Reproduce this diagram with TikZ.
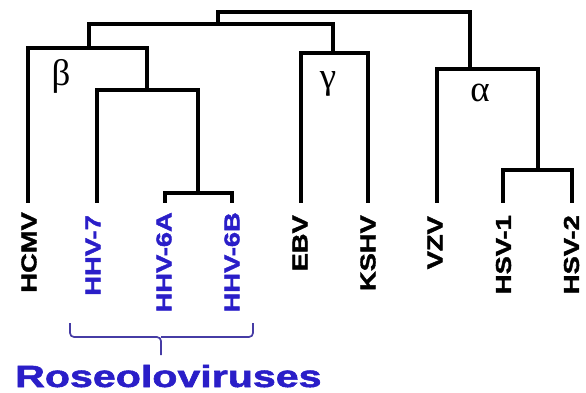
\documentclass[tikz,border=0pt]{standalone}
\usepackage{graphicx}
\usepackage{fontspec}
\setmainfont{Liberation Sans}
\newfontfamily\labelfont{Liberation Sans Bold}[FakeBold=1.6]
\newfontfamily\greekfont{Liberation Serif}
\definecolor{roseblue}{RGB}{42,30,200}
\definecolor{bracecol}{RGB}{70,60,165}
\begin{document}
\begin{tikzpicture}[x=1pt,y=-1pt,
  branch/.style={line width=3.2pt,black},
  leaflabel/.style={rotate=90,anchor=east,inner sep=0pt,font=\fontsize{21.5}{21.5}\selectfont\labelfont},
  greek/.style={inner sep=0pt,font=\fontsize{37}{37}\selectfont\greekfont},
  bracestyle/.style={line width=1.7pt,draw=bracecol,rounded corners=4pt}]
\useasboundingbox (0,0) rectangle (586,392);
% internal nodes
\coordinate (root) at (344,12);
\coordinate (bg) at (218,24);
\coordinate (beta) at (89,48);
\coordinate (r7) at (147,90);
\coordinate (r6) at (198,193);
\coordinate (gamma) at (333,53);
\coordinate (alpha) at (470,69);
\coordinate (hsv) at (538,170);
% leaf tips
\coordinate (tHCMV) at (28,203);
\coordinate (tHHV7) at (97,203);
\coordinate (tHHV6A) at (165,203);
\coordinate (tHHV6B) at (232,203);
\coordinate (tEBV) at (301,203);
\coordinate (tKSHV) at (368,203);
\coordinate (tVZV) at (437,203);
\coordinate (tHSV1) at (503,203);
\coordinate (tHSV2) at (572,203);
% branches
\draw[branch] (root) -| (bg);
\draw[branch] (root) -| (alpha);
\draw[branch] (bg) -| (beta);
\draw[branch] (bg) -| (gamma);
\draw[branch] (beta) -| (tHCMV);
\draw[branch] (beta) -| (r7);
\draw[branch] (r7) -| (tHHV7);
\draw[branch] (r7) -| (r6);
\draw[branch] (r6) -| (tHHV6A);
\draw[branch] (r6) -| (tHHV6B);
\draw[branch] (gamma) -| (tEBV);
\draw[branch] (gamma) -| (tKSHV);
\draw[branch] (alpha) -| (tVZV);
\draw[branch] (alpha) -| (hsv);
\draw[branch] (hsv) -| (tHSV1);
\draw[branch] (hsv) -| (tHSV2);
% labels
\node[leaflabel] (HCMV) at (29,212) {\scalebox{1.27}[1]{HCMV}};
\node[leaflabel,text=roseblue] (HHV7) at (93,215) {\scalebox{1.27}[1]{HHV-7}};
\node[leaflabel,text=roseblue] (HHV6A) at (164,212) {\scalebox{1.27}[1]{HHV-6A}};
\node[leaflabel,text=roseblue] (HHV6B) at (232,212) {\scalebox{1.27}[1]{HHV-6B}};
\node[leaflabel] (EBV) at (300,215) {\scalebox{1.27}[1]{EBV}};
\node[leaflabel] (KSHV) at (368,215) {\scalebox{1.27}[1]{KSHV}};
\node[leaflabel] (VZV) at (435,216) {\scalebox{1.27}[1]{VZV}};
\node[leaflabel] (HSV1) at (503.5,215) {\scalebox{1.27}[1]{HSV-1}};
\node[leaflabel] (HSV2) at (571.5,215) {\scalebox{1.27}[1]{HSV-2}};
% greek letters
\node[greek] (lbeta) at (61,76) {β};
\node[greek] (lgamma) at (328,84) {γ};
\node[greek] (lalpha) at (480,93) {α};
% brace
\coordinate (bl) at (70,323);
\coordinate (br) at (253,323);
\coordinate (bm) at (161,355);
\draw[bracestyle] (bl) |- (161,337) -- (bm);
\draw[bracestyle] (br) |- (161,337);
\node[anchor=base west,inner sep=0pt,text=roseblue,font=\fontsize{30.7}{30.7}\selectfont\labelfont] (rose) at (15,387) {\scalebox{1.34}[1]{Roseoloviruses}};
\end{tikzpicture}
\end{document}
